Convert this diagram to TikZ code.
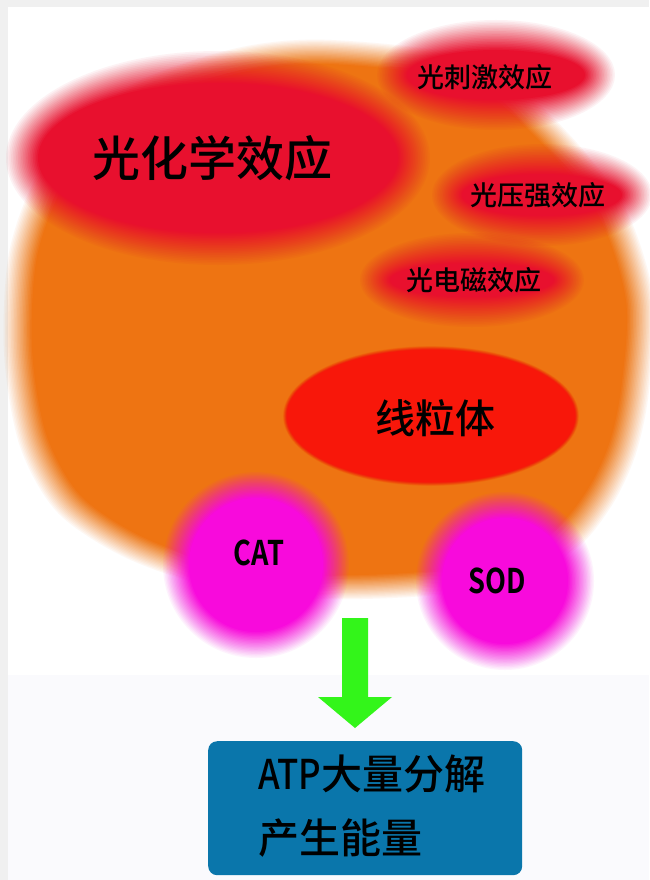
\documentclass[tikz,border=0pt]{standalone}
\usepackage{fontspec}
\newfontfamily\cjk{Noto Sans CJK SC Medium}
\newfontfamily\cjkb{Noto Sans CJK SC Bold}
\definecolor{bgrey}{HTML}{F0F0F0}
\definecolor{lowbg}{HTML}{FAFAFD}
\definecolor{orangeblob}{HTML}{EE7412}
\definecolor{redblob}{HTML}{E8102E}
\definecolor{mitored}{HTML}{F8170A}
\definecolor{magblob}{HTML}{F80ADC}
\definecolor{arrowgreen}{HTML}{33F51A}
\definecolor{boxblue}{HTML}{0A76AB}
\newcommand\fuzzyellipse[6]{%
  \foreach \k in {0,...,19}{%
    \pgfmathsetmacro\dd{#6*(1-2*\k/19)}%
    \pgfmathsetmacro\op{1/(20-\k)}%
    \fill[#5, fill opacity=\op] (#1,#2) ellipse ({#3+\dd} and {#4+\dd});
  }}
\tikzset{
  lbl/.style={inner sep=0pt, text=black},
  bigtxt/.style={lbl, font=\cjk\fontsize{48}{48}\selectfont},
  smalltxt/.style={lbl, font=\cjk\fontsize{27}{27}\selectfont},
  midtxt/.style={lbl, font=\cjk\fontsize{40}{40}\selectfont},
  boxtxt/.style={lbl, anchor=west, font=\cjk\fontsize{41}{41}\selectfont},
  enztxt/.style={lbl, font=\cjkb\fontsize{34}{34}\selectfont},
}
\begin{document}
\begin{tikzpicture}[x=1pt,y=-1pt]
\useasboundingbox (0,0) rectangle (649,880);
% background
\fill[bgrey] (0,0) rectangle (649,880);
\fill[white] (8,7) rectangle (649,880);
\fill[lowbg] (8,675) rectangle (649,880);
% big orange blob
\foreach \k in {0,...,19}{%
  \pgfmathsetmacro\sc{1+0.045*(1-2*\k/19)}%
  \pgfmathsetmacro\op{1/(20-\k)}%
  \fill[orangeblob, fill opacity=\op, shift={(330,320)}, scale=\sc]
    plot[smooth cycle] coordinates {(0,-268) (140,-250) (215,-192) (280,-112)
      (310,-20) (305,70) (292,130) (268,180) (230,223) (150,257) (30,267)
      (-90,261) (-190,230) (-260,185) (-297,120) (-312,30) (-306,-70)
      (-270,-155) (-190,-225) (-90,-260)};
}
% red blobs
\fuzzyellipse{218}{158}{196}{91}{redblob}{16}
\fuzzyellipse{496}{75}{104}{40}{redblob}{15}
\fuzzyellipse{542}{195}{95}{36}{redblob}{15}
\fuzzyellipse{472}{280}{97}{32}{redblob}{15}
% mitochondria
\fuzzyellipse{431}{416}{146}{68}{mitored}{2}
% enzymes
\fuzzyellipse{256}{565}{80}{80}{magblob}{13}
\fuzzyellipse{505}{581}{76}{76}{magblob}{13}
% labels
\node[bigtxt] (photochem) at (212,158) {光化学效应};
\node[smalltxt] (stim) at (485,77) {光刺激效应};
\node[smalltxt] (press) at (538,195) {光压强效应};
\node[smalltxt] (elmag) at (474,280) {光电磁效应};
\node[midtxt] (mito) at (435,418) {线粒体};
\node[enztxt] (cat) at (259,553) {\scalebox{0.8}[1]{CAT}};
\node[enztxt] (sod) at (497,581) {\scalebox{0.8}[1]{SOD}};
% arrow
\coordinate (arrtop) at (355,618);
\coordinate (arrtip) at (355,728);
\fill[arrowgreen] ([xshift=-13pt]arrtop) -- ([xshift=13pt]arrtop)
  -- ([xshift=13pt,yshift=31pt]arrtip) -- ([xshift=37pt,yshift=31pt]arrtip)
  -- (arrtip) -- ([xshift=-37pt,yshift=31pt]arrtip)
  -- ([xshift=-13pt,yshift=31pt]arrtip) -- cycle;
% result box
\node[fill=boxblue, rounded corners=9pt, minimum width=314pt, minimum height=134pt,
  anchor=north west, inner sep=0pt] (atpbox) at (208,741) {};
\node[boxtxt] (atpline) at (258,774) {\scalebox{0.85}[1]{ATP}大量分解};
\node[boxtxt] (energy) at (258,838) {产生能量};
\end{tikzpicture}
\end{document}
